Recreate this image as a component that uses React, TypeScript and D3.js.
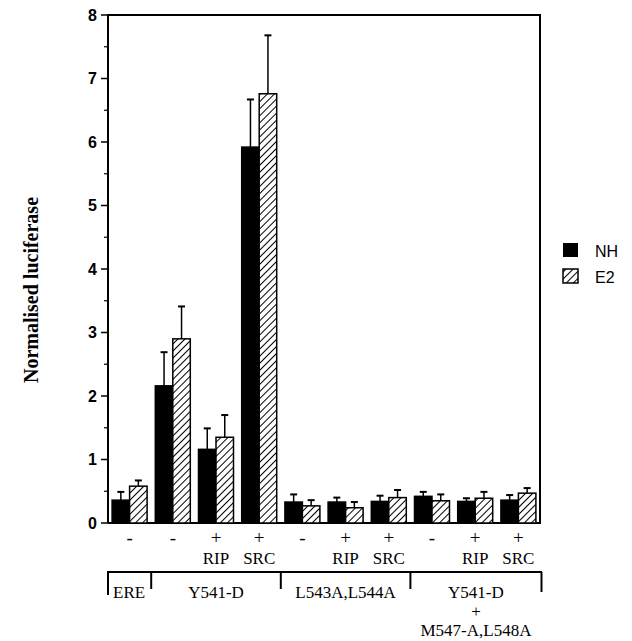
import React from "react";
import * as d3 from "d3";

// conditions, left to right
const conditions = ["c1", "c2", "c3", "c4", "c5", "c6", "c7", "c8", "c9", "c10"];
const signs = ["-", "-", "+", "+", "-", "+", "+", "-", "+", "+"];
const cofactors = ["", "", "RIP", "SRC", "", "RIP", "SRC", "", "RIP", "SRC"];

// NH (black) and E2 (hatched), mean and top of error bar
const nhValues = [0.36, 2.16, 1.16, 5.92, 0.33, 0.33, 0.34, 0.42, 0.34, 0.36];
const nhErrTop = [0.49, 2.69, 1.49, 6.67, 0.45, 0.4, 0.43, 0.49, 0.39, 0.44];
const e2Values = [0.58, 2.9, 1.35, 6.76, 0.27, 0.24, 0.4, 0.35, 0.39, 0.47];
const e2ErrTop = [0.67, 3.41, 1.7, 7.68, 0.36, 0.33, 0.52, 0.45, 0.49, 0.55];

// construct groups: [first index, last index, label lines]
const constructs = [
  { from: 0, to: 0, lines: ["ERE"] },
  { from: 1, to: 3, lines: ["Y541-D"] },
  { from: 4, to: 6, lines: ["L543A,L544A"] },
  { from: 7, to: 9, lines: ["Y541-D", "+", "M547-A,L548A"] },
];

const yTicks = [0, 1, 2, 3, 4, 5, 6, 7, 8];
const yMinor = [0.5, 1.5, 2.5, 3.5, 4.5, 5.5, 6.5, 7.5];

const left = 108;
const right = 540;
const top = 15;
const bottom = 523;

export default function App() {
  const x = d3
    .scaleBand<string>()
    .domain(conditions)
    .range([left, right])
    .paddingInner(0.19)
    .paddingOuter(0.095);
  const sub = d3.scaleBand<string>().domain(["NH", "E2"]).range([0, x.bandwidth()]);
  const y = d3.scaleLinear().domain([0, 8]).range([bottom, top]);
  const bw = sub.bandwidth();
  const gap = x.step() - x.bandwidth();

  const serif = "'Liberation Serif', 'Times New Roman', serif";
  const sans = "'Liberation Sans', Arial, sans-serif";

  const boundary = (i: number, end: boolean) => {
    if (!end) return i === 0 ? left : (x(conditions[i]) as number) - gap / 2;
    return i === conditions.length - 1 ? right + 1.5 : (x(conditions[i]) as number) + x.bandwidth() + gap / 2;
  };

  const bar = (i: number, key: string, v: number, e: number) => {
    const bx = (x(conditions[i]) as number) + (sub(key) as number);
    const cx = bx + bw / 2;
    return (
      <g key={key + i}>
        <line x1={cx} x2={cx} y1={y(v)} y2={y(e)} stroke="#000" strokeWidth={1.5} />
        <line x1={cx - 3.5} x2={cx + 3.5} y1={y(e)} y2={y(e)} stroke="#000" strokeWidth={2} />
        <rect
          x={bx}
          y={y(v)}
          width={bw}
          height={bottom - y(v)}
          fill={key === "NH" ? "#000" : "url(#hatch)"}
          stroke="#000"
          strokeWidth={1.5}
        />
      </g>
    );
  };

  return (
    <svg width={616} height={633} style={{ display: "block" }}>
      <defs>
        <pattern id="hatch" patternUnits="userSpaceOnUse" width={5} height={5} patternTransform="rotate(45)">
          <rect width={5} height={5} fill="#fff" />
          <line x1={0} y1={0} x2={0} y2={5} stroke="#000" strokeWidth={2} />
        </pattern>
      </defs>
      <g transform="translate(-8,-8)">
        {/* frame */}
        <path
          d={`M${left},${bottom}V${top}H${right}V${bottom}H${left}`}
          fill="none"
          stroke="#000"
          strokeWidth={2}
        />
        {yTicks.map((t) => (
          <g key={"t" + t}>
            <line x1={left - 7} x2={left} y1={y(t)} y2={y(t)} stroke="#000" strokeWidth={1.5} />
            <text
              x={left - 11}
              y={y(t)}
              dy="0.36em"
              textAnchor="end"
              fontFamily={sans}
              fontWeight="bold"
              fontSize={16}
            >
              {t}
            </text>
          </g>
        ))}
        {yMinor.map((t) => (
          <line key={"m" + t} x1={left - 4} x2={left} y1={y(t)} y2={y(t)} stroke="#000" strokeWidth={1.2} />
        ))}
        <text
          transform={`translate(38,${290}) rotate(-90)`}
          textAnchor="middle"
          fontFamily={serif}
          fontWeight="bold"
          fontSize={20}
        >
          Normalised luciferase
        </text>

        {conditions.map((c, i) => (
          <g key={c}>
            {bar(i, "NH", nhValues[i], nhErrTop[i])}
            {bar(i, "E2", e2Values[i], e2ErrTop[i])}
            <text
              x={(x(c) as number) + x.bandwidth() / 2}
              y={544}
              textAnchor="middle"
              fontFamily={serif}
              fontSize={19}
            >
              {signs[i]}
            </text>
            <text
              x={(x(c) as number) + x.bandwidth() / 2}
              y={564}
              textAnchor="middle"
              fontFamily={serif}
              fontSize={17}
            >
              {cofactors[i]}
            </text>
          </g>
        ))}

        {/* construct brackets */}
        <line x1={left - 1} x2={right + 2} y1={572} y2={572} stroke="#000" strokeWidth={2} />
        {constructs.map((g, k) => {
          const x0 = boundary(g.from, false);
          const x1 = boundary(g.to, true);
          return (
            <g key={"g" + k}>
              <line x1={x0} x2={x0} y1={572} y2={k === 0 ? 595 : 589} stroke="#000" strokeWidth={2} />
              {k === constructs.length - 1 && (
                <line x1={x1} x2={x1} y1={572} y2={592} stroke="#000" strokeWidth={2} />
              )}
              {g.lines.map((l, j) => (
                <text
                  key={l + j}
                  x={k === 0 ? x0 + 5 : (x0 + x1) / 2}
                  y={598 + j * 19}
                  textAnchor={k === 0 ? "start" : "middle"}
                  fontFamily={serif}
                  fontSize={17}
                >
                  {l}
                </text>
              ))}
            </g>
          );
        })}

        {/* legend */}
        <rect x={563} y={243} width={15} height={14} fill="#000" />
        <text x={595} y={257} fontFamily={sans} fontSize={16}>
          NH
        </text>
        <rect x={563} y={269} width={15} height={14} fill="url(#hatch)" stroke="#000" strokeWidth={1.5} />
        <text x={595} y={283} fontFamily={sans} fontSize={16}>
          E2
        </text>
      </g>
    </svg>
  );
}
